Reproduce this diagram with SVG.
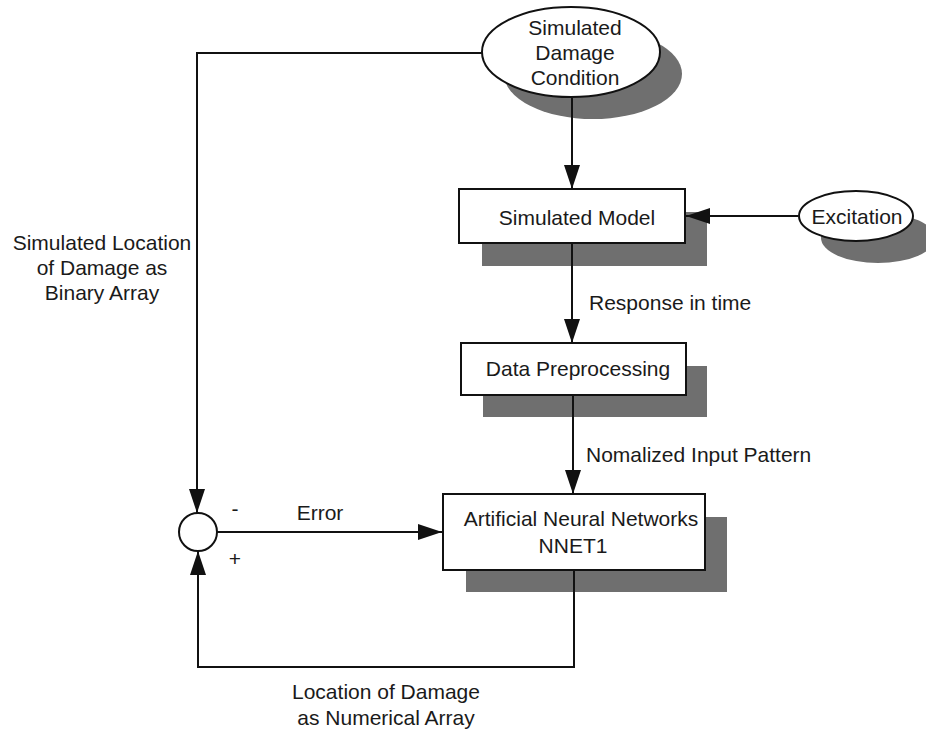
<svg xmlns="http://www.w3.org/2000/svg" width="926" height="730" viewBox="0 0 926 730">
<defs>
<style>
.t{font-family:"Liberation Sans",Arial,sans-serif;font-size:21px;fill:#1a1a1a}
.m{text-anchor:middle}
.box{fill:#fff;stroke:#111;stroke-width:2}
.sh{fill:#6f6f6f;stroke:none}
.ln{fill:none;stroke:#111;stroke-width:2}
</style>
<marker id="ah" markerUnits="userSpaceOnUse" viewBox="0 0 24 16" markerWidth="24" markerHeight="16" refX="24" refY="8" orient="auto">
<path d="M0,0 L24,8 L0,16 Z" fill="#111"/>
</marker>
</defs>
<rect width="926" height="730" fill="#fff"/>
<g id="damage">
<ellipse class="sh" cx="593" cy="74" rx="89" ry="45"/>
<ellipse class="box" cx="571" cy="52" rx="89" ry="45"/>
<text class="t m" x="575" y="35">Simulated</text>
<text class="t m" x="575" y="60">Damage</text>
<text class="t m" x="575" y="85">Condition</text>
</g>
<g id="excitation">
<ellipse class="sh" cx="878" cy="238" rx="57" ry="25"/>
<ellipse class="box" cx="856" cy="216" rx="57" ry="25"/>
<text class="t m" x="857" y="224">Excitation</text>
</g>
<g id="model">
<rect class="sh" x="482" y="212" width="225" height="54"/>
<rect class="box" x="459" y="189" width="226" height="54"/>
<text class="t m" x="577" y="225">Simulated Model</text>
</g>
<g id="preproc">
<rect class="sh" x="483" y="366" width="224" height="51"/>
<rect class="box" x="461" y="343" width="225" height="52"/>
<text class="t m" x="578" y="376">Data Preprocessing</text>
</g>
<g id="ann">
<rect class="sh" x="466" y="517" width="261" height="75"/>
<rect class="box" x="443" y="494" width="262" height="76"/>
<text class="t m" x="581" y="526">Artificial Neural Networks</text>
<text class="t m" x="573" y="553">NNET1</text>
</g>
<g id="sum">
<circle class="box" cx="198" cy="532" r="19" stroke-width="1.5"/>
</g>
<g id="connectors">
<path class="ln" d="M482,53 H197 V513" marker-end="url(#ah)"/>
<path class="ln" d="M572,98 V189" marker-end="url(#ah)"/>
<path class="ln" d="M798,216 H686" marker-end="url(#ah)"/>
<path class="ln" d="M572,243 V343" marker-end="url(#ah)"/>
<path class="ln" d="M573,395 V494" marker-end="url(#ah)"/>
<path class="ln" d="M217,532 H442" marker-end="url(#ah)"/>
<path class="ln" d="M574,571 V667 H198 V551" marker-end="url(#ah)"/>
<text class="t" x="589" y="310">Response in time</text>
<text class="t" x="586" y="462">Nomalized Input Pattern</text>
<text class="t m" x="320" y="520">Error</text>
<text class="t m" x="235" y="516">-</text>
<text class="t m" x="235" y="566">+</text>
<text class="t m" x="102" y="250">Simulated Location</text>
<text class="t m" x="102" y="275">of Damage as</text>
<text class="t m" x="102" y="300">Binary Array</text>
<text class="t m" x="386" y="699">Location of Damage</text>
<text class="t m" x="386" y="725">as Numerical Array</text>
</g>
</svg>
